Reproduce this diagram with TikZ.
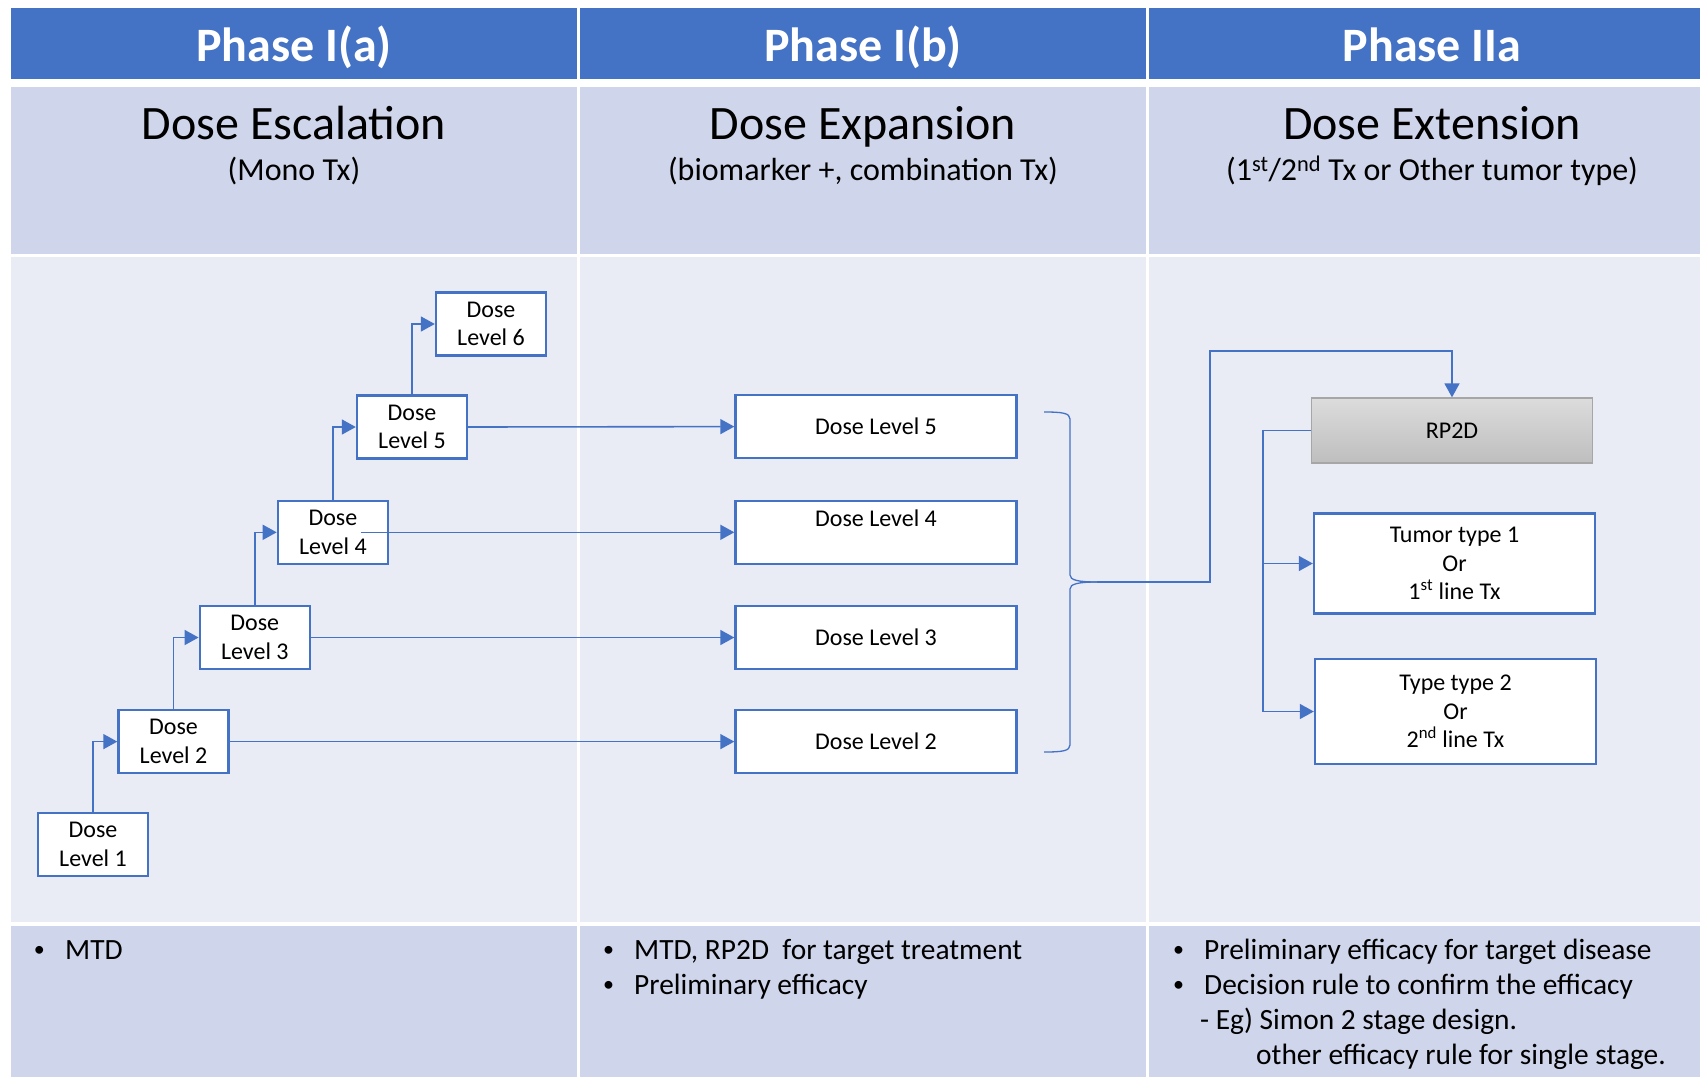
\documentclass[tikz,border=0pt]{standalone}
\usepackage{fontspec}
\setmainfont{Carlito}
\usetikzlibrary{arrows.meta,calc}
\definecolor{hblue}{HTML}{4472C4}
\definecolor{rowA}{HTML}{CFD5EA}
\definecolor{rowB}{HTML}{E9EBF5}
\definecolor{rpTop}{HTML}{DCDCDC}
\definecolor{rpBot}{HTML}{BEBEBE}
\definecolor{rpBorder}{HTML}{A6A6A6}
\begin{document}
\begin{tikzpicture}[x=1pt,y=-1pt,
  conn/.style={draw=hblue,line width=1.6pt},
  arr/.style={conn,-{Triangle[length=14pt,width=15pt]}},
  hdr/.style={text=white,font=\bfseries\fontsize{48}{54}\selectfont,inner sep=0pt,anchor=base},
  subbig/.style={font=\fontsize{48}{55}\selectfont,inner sep=0pt,anchor=base},
  subsmall/.style={font=\fontsize{32}{37}\selectfont,inner sep=0pt,anchor=base},
  bodytxt/.style={font=\fontsize{29.4}{35}\selectfont,inner sep=0pt,anchor=base west},
  bul/.style={font=\fontsize{22}{26}\selectfont,inner sep=0pt,anchor=base west,yshift=2.4pt},
  dlbox/.style={draw=hblue,line width=2.4pt,fill=white,minimum width=110pt,minimum height=63pt,inner sep=0pt,align=center,font=\fontsize{24}{28.5}\selectfont},
  midbox/.style={dlbox,minimum width=281pt,minimum height=63pt},
  outbox/.style={dlbox,minimum width=281pt},
  rpbox/.style={draw=rpBorder,line width=1.3pt,top color=rpTop,bottom color=rpBot,minimum width=281pt,minimum height=65pt,inner sep=0pt,font=\fontsize{24}{28}\selectfont}
]
\useasboundingbox (0,0) rectangle (1700,1077);
\fill[white] (0,0) rectangle (1700,1077);
% header row
\fill[hblue] (10.8,7.6) rectangle (576.7,79);
\fill[hblue] (579.8,7.6) rectangle (1145.5,79);
\fill[hblue] (1148.6,7.6) rectangle (1700,79);
% subheader row
\fill[rowA] (10.8,86.5) rectangle (576.7,253.7);
\fill[rowA] (579.8,86.5) rectangle (1145.5,253.7);
\fill[rowA] (1148.6,86.5) rectangle (1700,253.7);
% main row
\fill[rowB] (10.8,257) rectangle (576.7,922);
\fill[rowB] (579.8,257) rectangle (1145.5,922);
\fill[rowB] (1148.6,257) rectangle (1700,922);
% bottom row
\fill[rowA] (10.8,925.5) rectangle (576.7,1077);
\fill[rowA] (579.8,925.5) rectangle (1145.5,1077);
\fill[rowA] (1148.6,925.5) rectangle (1700,1077);

% header texts
\node[hdr] (h1) at (294,61) {Phase I(a)};
\node[hdr] (h2) at (863,61) {Phase I(b)};
\node[hdr] (h3) at (1432,61) {Phase IIa};
\node[subbig] (s1) at (294,139) {Dose Escalation};
\node[subbig] (s2) at (863,139) {Dose Expansion};
\node[subbig] (s3) at (1432,139) {Dose Extension};
\node[subsmall] (p1) at (294,180.5) {(Mono Tx)};
\node[subsmall] (p2) at (863,180.5) {(biomarker +, combination Tx)};
\node[subsmall] (p3) at (1432,180.5) {(1\textsuperscript{st}/2\textsuperscript{nd} Tx or Other tumor type)};

% dose escalation boxes
\node[dlbox] (dl1) at (93,844.5) {Dose\\Level 1};
\node[dlbox] (dl2) at (173.5,741.6) {Dose\\Level 2};
\node[dlbox] (dl3) at (254.8,637.5) {Dose\\Level 3};
\node[dlbox] (dl4) at (332.9,532.3) {Dose\\Level 4};
\node[dlbox] (dl5) at (412,427) {Dose\\Level 5};
\node[dlbox] (dl6) at (491,324) {Dose\\Level 6};

\draw[arr] (dl1.north) |- (dl2.west);
\draw[arr] (dl2.north) |- (dl3.west);
\draw[arr] (dl3.north) |- (dl4.west);
\draw[arr] (dl4.north) |- (dl5.west);
\draw[arr] (dl5.north) |- (dl6.west);

% expansion boxes
\node[midbox] (m5) at (876,426.6) {Dose Level 5};
\node[midbox] (m4) at (876,532.3) {Dose Level 4\\~};
\node[midbox] (m3) at (876,637.5) {Dose Level 3};
\node[midbox] (m2) at (876,741.6) {Dose Level 2};

\draw[arr] (dl5.east) -- (m5.west);
\draw[arr] ([xshift=28pt]dl4.center) -- (m4.west);
\draw[arr] (dl3.east) -- (m3.west);
\draw[arr] (dl2.east) -- (m2.west);

% brace
\coordinate (brtip) at (1097,582);
\draw[conn,line width=1.3pt] (1044,412) .. controls (1062,412) and (1070,413) .. (1070,419) -- (1070,575) .. controls (1070,580) and (1078,582) .. (brtip);
\draw[conn,line width=1.3pt] (brtip) .. controls (1078,582) and (1070,584) .. (1070,589) -- (1070,745) .. controls (1070,751) and (1062,752) .. (1044,752);

% extension
\node[rpbox] (rp) at (1452,430.5) {RP2D};
\node[outbox,minimum height=100pt] (t1) at (1454.5,563.5) {Tumor type 1\\Or\\1\textsuperscript{st} line Tx};
\node[outbox,minimum height=105pt] (t2) at (1455.5,711.5) {Type type 2\\Or\\2\textsuperscript{nd} line Tx};

\coordinate (bend) at (1210,351);
\draw[arr] (brtip) -| (bend) -| (rp.north);
\coordinate (rpl) at (1263,430.5);
\draw[arr] (rp.west) -- (rpl) |- (t1.west);
\draw[arr] (rpl) |- (t2.west);

% bottom texts
\node[bul] (b1a) at (33.6,959) {•};
\node[bodytxt] (b1t) at (65,959) {MTD};
\node[bul] (b2a) at (603,959) {•};
\node[bodytxt] (b2t) at (634,959) {MTD, RP2D\ \ for target treatment};
\node[bul] (b2b) at (603,994) {•};
\node[bodytxt] (b2u) at (634,994) {Preliminary efficacy};
\node[bul] (b3a) at (1173,959) {•};
\node[bodytxt] (b3t) at (1204,959) {Preliminary efficacy for target disease};
\node[bul] (b3b) at (1173,994) {•};
\node[bodytxt] (b3u) at (1204,994) {Decision rule to confirm the efficacy};
\node[bodytxt] (b3v) at (1200,1029) {- Eg) Simon 2 stage design.};
\node[bodytxt] (b3w) at (1256,1064) {other efficacy rule for single stage.};
\end{tikzpicture}
\end{document}
